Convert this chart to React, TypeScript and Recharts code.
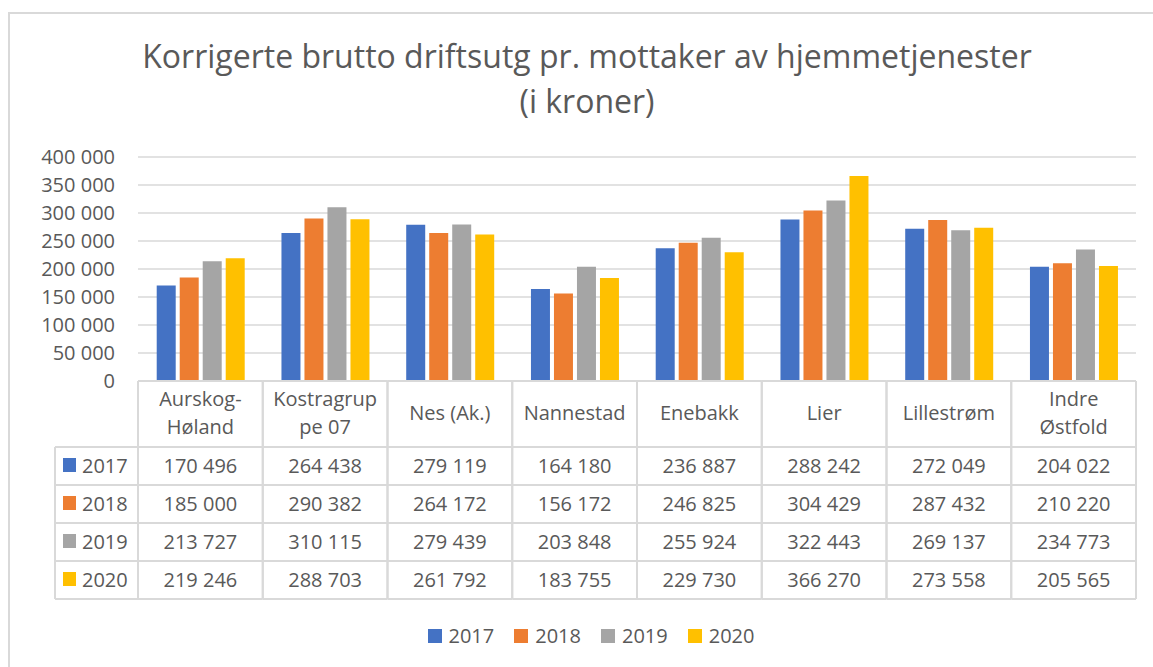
import React from 'react';
import { BarChart, Bar, XAxis, YAxis, CartesianGrid, Legend } from 'recharts';

const categories = ['Aurskog-Høland', 'Kostragruppe 07', 'Nes (Ak.)', 'Nannestad', 'Enebakk', 'Lier', 'Lillestrøm', 'Indre Østfold'];
const headerLines: string[][] = [
  ['Aurskog-', 'Høland'],
  ['Kostragrup', 'pe 07'],
  ['Nes (Ak.)'],
  ['Nannestad'],
  ['Enebakk'],
  ['Lier'],
  ['Lillestrøm'],
  ['Indre', 'Østfold'],
];
const years = ['2017', '2018', '2019', '2020'];
const v2017 = [170496, 264438, 279119, 164180, 236887, 288242, 272049, 204022];
const v2018 = [185000, 290382, 264172, 156172, 246825, 304429, 287432, 210220];
const v2019 = [213727, 310115, 279439, 203848, 255924, 322443, 269137, 234773];
const v2020 = [219246, 288703, 261792, 183755, 229730, 366270, 273558, 205565];
const seriesValues = [v2017, v2018, v2019, v2020];
const colors = ['#4472C4', '#ED7D31', '#A5A5A5', '#FFC000'];
const yTicks = [0, 50000, 100000, 150000, 200000, 250000, 300000, 350000, 400000];
const title1 = 'Korrigerte brutto driftsutg pr. mottaker av hjemmetjenester';
const title2 = '(i kroner)';

const data = categories.map((c, i) => {
  const row: Record<string, string | number> = { name: c };
  years.forEach((y, k) => {
    row[y] = seriesValues[k][i];
  });
  return row;
});

const fmt = (n: number) => String(n).replace(/\B(?=(\d{3})+(?!\d))/g, ' ');

const FONT = '"Open Sans", sans-serif';
const TEXT = '#595959';
const LINE = '#d9d9d9';
const W = 1153;
const H = 667;
const PLOT_LEFT = 138;
const PLOT_RIGHT = 1136;
const BAND = (PLOT_RIGHT - PLOT_LEFT) / categories.length;
const HEADER_H = 66;
const ROW_H = 38;
const LEG_COL_LEFT = 55;

function TableTick(props: any) {
  const { x, y, index } = props;
  const top = y;
  const bottom = top + HEADER_H + ROW_H * years.length;
  const left = x - BAND / 2;
  const right = x + BAND / 2;
  const lines = headerLines[index] || [String(props.payload?.value)];
  const headerBase = lines.length === 2 ? [top + 25, top + 53] : [top + 39];
  const els: React.ReactNode[] = [];
  els.push(<line key="l" x1={left} x2={left} y1={top} y2={bottom} stroke={LINE} strokeWidth={2} />);
  els.push(<line key="r" x1={right} x2={right} y1={top} y2={bottom} stroke={LINE} strokeWidth={2} />);
  els.push(<line key="t" x1={left} x2={right} y1={top} y2={top} stroke={LINE} strokeWidth={2} />);
  for (let r = 0; r <= years.length; r++) {
    const yy = top + HEADER_H + r * ROW_H;
    els.push(<line key={'h' + r} x1={left} x2={right} y1={yy} y2={yy} stroke={LINE} strokeWidth={2} />);
  }
  lines.forEach((ln, k) => {
    els.push(
      <text key={'t' + k} x={x} y={headerBase[k]} textAnchor="middle" fontSize={20} fill={TEXT} fontFamily={FONT}>
        {ln}
      </text>
    );
  });
  years.forEach((yr, r) => {
    const base = top + HEADER_H + r * ROW_H + 26;
    els.push(
      <text key={'v' + r} x={x} y={base} textAnchor="middle" fontSize={20} fill={TEXT} fontFamily={FONT}>
        {fmt(seriesValues[r][index])}
      </text>
    );
  });
  if (index === 0) {
    els.push(<line key="ll" x1={LEG_COL_LEFT} x2={LEG_COL_LEFT} y1={top + HEADER_H} y2={bottom} stroke={LINE} strokeWidth={2} />);
    for (let r = 0; r <= years.length; r++) {
      const yy = top + HEADER_H + r * ROW_H;
      els.push(<line key={'lh' + r} x1={LEG_COL_LEFT} x2={left} y1={yy} y2={yy} stroke={LINE} strokeWidth={2} />);
    }
    years.forEach((yr, r) => {
      const rt = top + HEADER_H + r * ROW_H;
      els.push(<rect key={'ls' + r} x={63} y={rt + 11} width={13} height={14} fill={colors[r]} />);
      els.push(
        <text key={'lt' + r} x={82} y={rt + 26} fontSize={20} fill={TEXT} fontFamily={FONT}>
          {yr}
        </text>
      );
    });
  }
  return <g>{els}</g>;
}

function LegendContent(props: any) {
  const payload = props.payload || [];
  return (
    <div style={{ display: 'flex', justifyContent: 'center', alignItems: 'center', fontFamily: FONT, fontSize: 20, color: TEXT }}>
      {payload.map((p: any, i: number) => (
        <div key={i} style={{ display: 'flex', alignItems: 'center', marginRight: i < payload.length - 1 ? 20 : 0 }}>
          <span style={{ display: 'inline-block', width: 14, height: 14, background: p.color, marginRight: 7 }} />
          <span>{p.value}</span>
        </div>
      ))}
    </div>
  );
}

export default function App() {
  return (
    <div style={{ position: 'absolute', left: 0, top: 0, width: W, height: H, overflow: 'hidden', background: '#fff', fontFamily: FONT }}>
      <div style={{ position: 'absolute', left: 8, top: 12, width: 1200, height: 700, border: `2px solid ${LINE}`, boxSizing: 'border-box' }} />
      <div style={{ position: 'absolute', left: 0, top: 33, width: 1174, textAlign: 'center', color: TEXT, fontSize: 32, lineHeight: '45px' }}>
        <div>{title1}</div>
        <div>{title2}</div>
      </div>
      <div style={{ position: 'absolute', left: 0, top: 0 }}>
        <BarChart
          width={W}
          height={H}
          data={data}
          margin={{ top: 157, right: W - PLOT_RIGHT, bottom: 68, left: 20 }}
          barCategoryGap="15%"
          barGap={4}
        >
          <CartesianGrid vertical={false} stroke={LINE} strokeWidth={1.5} />
          <XAxis
            dataKey="name"
            height={218}
            axisLine={false}
            tickLine={false}
            tickSize={0}
            tickMargin={0}
            interval={0}
            tick={<TableTick />}
          />
          <YAxis
            width={118}
            domain={[0, 400000]}
            ticks={yTicks}
            axisLine={false}
            tickLine={false}
            tickSize={0}
            tickMargin={23}
            tickFormatter={fmt}
            tick={{ fontSize: 20, fill: TEXT, fontFamily: FONT }}
          />
          <Legend
            verticalAlign="middle"
            align="center"
            layout="horizontal"
            wrapperStyle={{ top: 622, left: 0, width: 1182, height: 26 }}
            content={<LegendContent />}
          />
          {years.map((yr, k) => (
            <Bar key={yr} dataKey={yr} fill={colors[k]} isAnimationActive={false} />
          ))}
        </BarChart>
      </div>
    </div>
  );
}
